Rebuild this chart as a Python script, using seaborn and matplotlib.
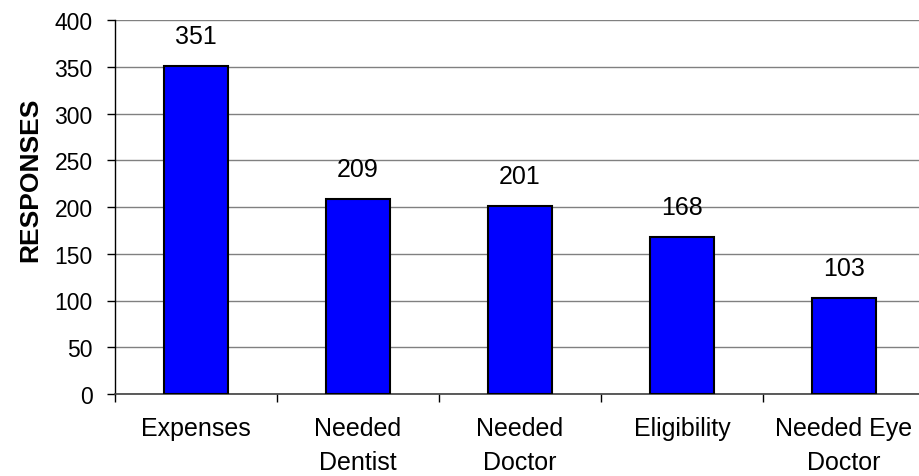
import matplotlib
matplotlib.use("Agg")
import matplotlib.pyplot as plt
import seaborn as sns
import pandas as pd
import numpy as np

categories = ["Expenses", "Needed\nDentist", "Needed\nDoctor", "Eligibility", "Needed Eye\nDoctor"]
responses = [351, 209, 201, 168, 103]
yticks = [0, 50, 100, 150, 200, 250, 300, 350, 400]

sns.set_style("white")
plt.rcParams['font.family'] = ['Liberation Sans', 'DejaVu Sans']
plt.rcParams['text.color'] = 'black'
plt.rcParams['axes.labelcolor'] = 'black'
plt.rcParams['xtick.color'] = 'black'
plt.rcParams['ytick.color'] = 'black'

df = pd.DataFrame({"category": categories, "responses": responses})

fig = plt.figure(figsize=(9.19, 4.77), dpi=100)
ax = fig.add_axes([115/919, 1 - 395/477, 810/919, (395-21)/477])

sns.barplot(data=df, x="category", y="responses", color="#0000FF", saturation=1,
            width=0.4, edgecolor="black", linewidth=1.5, ax=ax, zorder=3)

ax.set_ylim(0, 400)
ax.set_xlim(-0.5, len(categories) - 0.5)
ax.set_yticks(yticks)
ax.yaxis.grid(True, color="#808080", linewidth=1, zorder=0)
ax.set_axisbelow(True)

for s in ["top", "right"]:
    ax.spines[s].set_visible(False)
ax.spines["left"].set_color("black")
ax.spines["left"].set_linewidth(1)
ax.spines["bottom"].set_color("#404040")
ax.spines["bottom"].set_linewidth(1.2)

ax.tick_params(axis="y", direction="out", length=6, width=1, color="black", labelsize=16.5, pad=10, left=True)
ax.tick_params(axis="x", which="major", length=0, labelsize=18, pad=16)
ax.set_xticks(np.arange(-0.5, len(categories), 1.0), minor=True)
ax.tick_params(axis="x", which="minor", direction="out", length=6, width=1, color="black", bottom=True)
for lbl in ax.get_xticklabels():
    lbl.set_linespacing(1.52)
    lbl.set_verticalalignment("top")

ax.set_xlabel("")
ax.set_ylabel("RESPONSES", fontsize=19, fontweight="bold", va="center")
ax.yaxis.set_label_coords(-0.105, 0.575)

for i, v in enumerate(responses):
    ax.annotate(str(v), (i, v), xytext=(0, 13), textcoords="offset points",
                ha="center", va="bottom", fontsize=18)

fig.savefig("out.png", dpi=100)
